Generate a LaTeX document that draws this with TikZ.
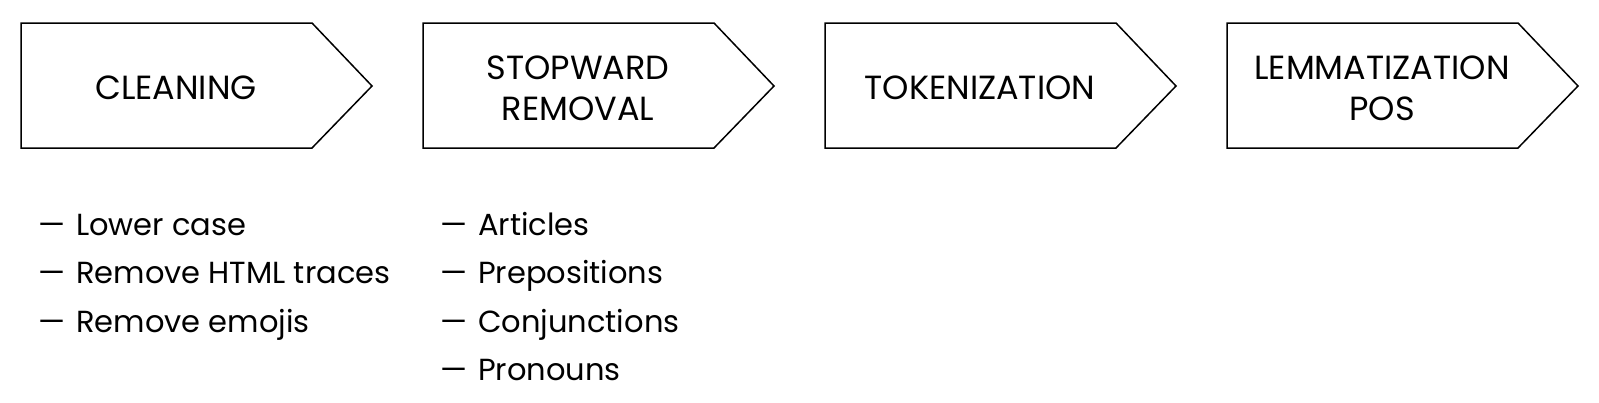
\documentclass[tikz,border=0pt]{standalone}
\usepackage{fontspec}
\setmainfont{Poppins}
\newcommand{\dashitem}[1]{\makebox[38pt][l]{—}#1}
\begin{document}
\begin{tikzpicture}[x=1pt,y=-1pt,
  chev/.style={draw=black,line width=1.5pt,line join=miter},
  lab/.style={font=\fontsize{33.5}{41}\selectfont, align=center, inner sep=0pt},
  itemlist/.style={font=\fontsize{30.5}{48.5}\selectfont, align=left, inner sep=0pt, anchor=north west}]
\useasboundingbox (0,0) rectangle (1599,402);
\foreach \x in {21,423,825,1227} {
  \draw[chev] (\x,23) -- (\x+291,23) -- (\x+351,86) -- (\x+291,148) -- (\x,148) -- cycle;
}
\node[lab] (clean) at (176,88) {CLEANING};
\node[lab] (stop) at (578,88) {STOPWARD\\REMOVAL};
\node[lab] (token) at (980,88) {TOKENIZATION};
\node[lab] (lemma) at (1382,88) {LEMMATIZATION\\POS};
\node[itemlist] (list1) at (38,214) {\dashitem{Lower case}\\\dashitem{Remove HTML traces}\\\dashitem{Remove emojis}};
\node[itemlist] (list2) at (440,212) {\dashitem{Articles}\\\dashitem{Prepositions}\\\dashitem{Conjunctions}\\\dashitem{Pronouns}};
\end{tikzpicture}
\end{document}
